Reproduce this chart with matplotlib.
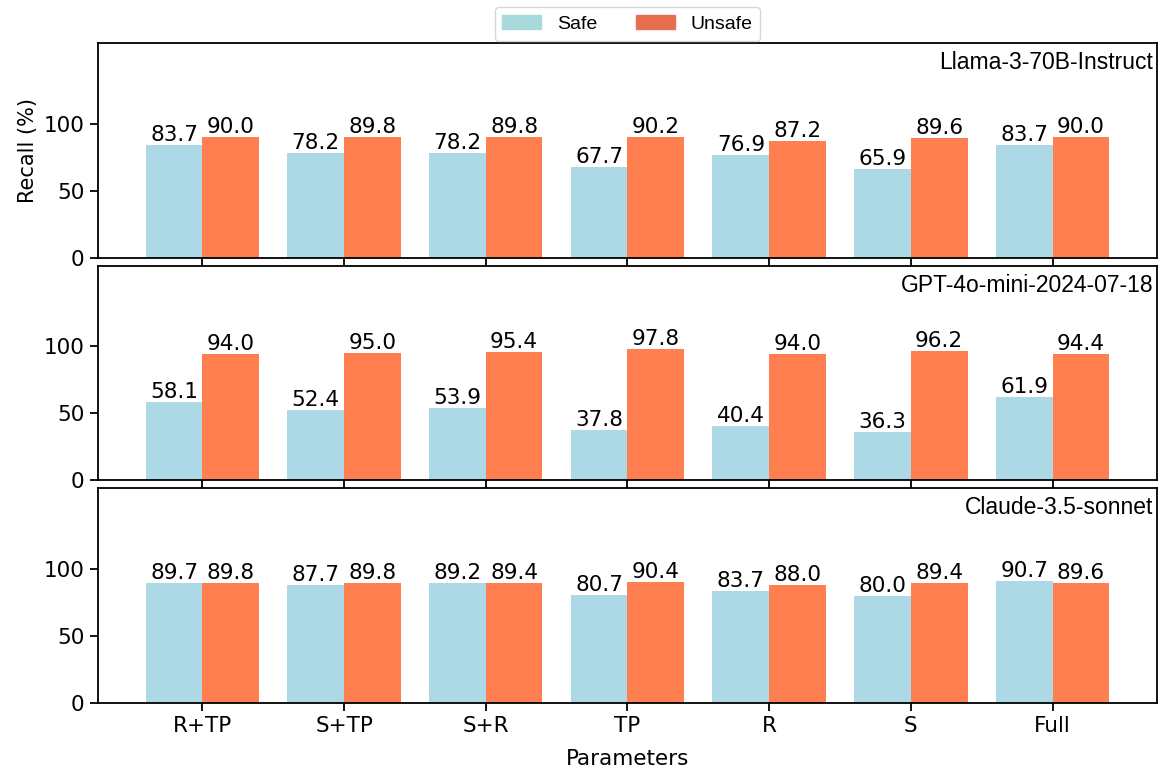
import numpy as np
import matplotlib
matplotlib.use("Agg")
from matplotlib import pyplot as plt
from matplotlib.patches import Patch

# x categories and the three models
params = ["R+TP", "S+TP", "S+R", "TP", "R", "S", "Full"]
models = ["Llama-3-70B-Instruct", "GPT-4o-mini-2024-07-18", "Claude-3.5-sonnet"]

# recall values (%)
llama_safe = [83.7, 78.2, 78.2, 67.7, 76.9, 65.9, 83.7]
llama_unsafe = [90.0, 89.8, 89.8, 90.2, 87.2, 89.6, 90.0]
gpt_safe = [58.1, 52.4, 53.9, 37.8, 40.4, 36.3, 61.9]
gpt_unsafe = [94.0, 95.0, 95.4, 97.8, 94.0, 96.2, 94.4]
claude_safe = [89.7, 87.7, 89.2, 80.7, 83.7, 80.0, 90.7]
claude_unsafe = [89.8, 89.8, 89.4, 90.4, 88.0, 89.4, 89.6]

safe_vals = [llama_safe, gpt_safe, claude_safe]
unsafe_vals = [llama_unsafe, gpt_unsafe, claude_unsafe]

x = np.arange(len(params))
w = 0.4

fig, axes = plt.subplots(3, 1, figsize=(11.62, 7.7), dpi=100, sharex=True)
fig.subplots_adjust(left=0.084, right=0.996, top=0.944, bottom=0.087, hspace=0.037)

for ax, name, s, u in zip(axes, models, safe_vals, unsafe_vals):
    b1 = ax.bar(x - w / 2, s, w, color="lightblue")
    b2 = ax.bar(x + w / 2, u, w, color="coral")
    for bars in (b1, b2):
        for bar in bars:
            h = bar.get_height()
            ax.text(bar.get_x() + bar.get_width() / 2, h, f"{h:.1f}",
                    ha="center", va="bottom", fontsize=15.5)
    ax.set_ylim(0, 160)
    ax.set_yticks([0, 50, 100])
    ax.tick_params(labelsize=15.5, width=1.3, length=6)
    for sp in ax.spines.values():
        sp.set_linewidth(1.3)
    ax.text(0.996, 0.962, name, transform=ax.transAxes, ha="right", va="top",
            fontsize=16.5, family="Liberation Sans")

axes[0].set_ylabel("Recall (%)", fontsize=15)
axes[-1].set_xticks(x)
axes[-1].set_xticklabels(params, fontsize=15.5)
axes[-1].set_xlabel("Parameters", fontsize=15.5, labelpad=9)

handles = [Patch(color="#a8dadc", label="Safe"), Patch(color="#e76f51", label="Unsafe")]
fig.legend(handles=handles, loc="upper center", ncol=2, bbox_to_anchor=(0.54, 1.003),
           prop={"family": "Liberation Sans", "size": 14}, columnspacing=2.0)

fig.savefig("out.png")
